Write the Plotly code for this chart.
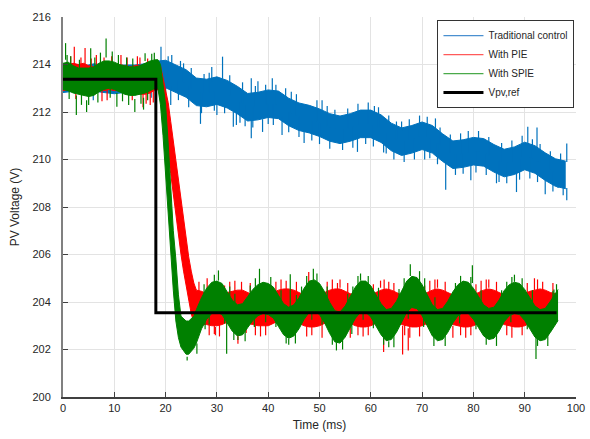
import plotly.graph_objects as go

# ---------------- data ----------------
# Reference voltage
ref_t = [0, 18.1, 18.1, 96.2]
ref_v = [213.38, 213.38, 203.55, 203.55]

# Traditional control (blue): solid core of the noise band, every 2 ms
blue_t = [0, 2, 4, 6, 8, 10, 12, 14, 16, 18, 20, 22, 24, 26, 28, 30, 32, 34, 36, 38,
          40, 42, 44, 46, 48, 50, 52, 54, 56, 58, 60, 62, 64, 66, 68, 70, 72, 74, 76, 78,
          80, 82, 84, 86, 88, 90, 92, 94, 96, 98]
blue_hi = [213.98, 214.03, 213.93, 214.03, 213.98, 213.93, 213.98, 213.98, 214.03, 214.13,
           214.18, 213.98, 213.78, 213.43, 213.38, 213.48, 213.33, 213.08, 212.78, 212.83,
           212.93, 212.88, 212.58, 212.38, 212.28, 212.13, 211.93, 211.83, 211.93, 212.08,
           212.08, 211.88, 211.53, 211.33, 211.43, 211.58, 211.43, 211.08, 210.78, 210.83,
           210.93, 210.88, 210.63, 210.43, 210.53, 210.73, 210.58, 210.28, 210.03, 209.93]
blue_lo = [212.82, 212.87, 212.77, 212.87, 212.82, 212.77, 212.82, 212.82, 212.87, 212.97,
           213.02, 212.82, 212.62, 212.27, 212.22, 212.32, 212.17, 211.92, 211.62, 211.67,
           211.77, 211.72, 211.42, 211.22, 211.12, 210.97, 210.77, 210.67, 210.77, 210.92,
           210.92, 210.72, 210.37, 210.17, 210.27, 210.42, 210.27, 209.92, 209.62, 209.67,
           209.77, 209.72, 209.47, 209.27, 209.37, 209.57, 209.42, 209.12, 208.87, 208.77]
# spikes sticking out of the blue band: time, start (inside band), tip
blue_spk_t = [19.1, 21.2, 22.9, 31.1, 36.7, 38.0, 40.8, 43.4, 60.7, 72.6, 90.6, 92.4, 98.2,
              29.0, 50.5, 66.0,
              21.0, 26.8, 30.0, 33.2, 33.8, 36.7, 38.9, 42.7, 57.4, 74.6, 79.5, 88.4, 94.0,
              98.2, 96.5, 47.0, 62.5, 70.5, 84.5, 5.9, 17.2,
              20.5, 23.5, 25, 27.5, 28.5, 32.5, 35, 37.5, 39.5, 41.5, 44.5, 45.5, 49.5, 51.5,
              53, 55.5, 57.5, 59.5, 61.5, 63.5, 65, 67.5, 69.5, 71, 73.5, 75.5, 77.5, 79, 81,
              83, 85.5, 87.5, 89.5, 91.5, 93, 95, 97,
              20, 22.5, 24.5, 27, 29.5, 31.5, 34.5, 35.5, 37, 40, 41, 44, 46, 48.5, 50, 52,
              54.5, 56.5, 59, 60.5, 63, 64.5, 66.5, 68.5, 71.5, 73, 76.5, 78, 80.5, 82.5, 85,
              86.5, 89, 91, 92.5, 95.5, 97.5]
blue_spk_a = [214.0, 213.9, 213.8, 213.4, 212.7, 212.7, 212.8, 212.6, 211.9, 211.3, 210.6,
              210.5, 209.9, 213.3, 212.0, 211.2,
              213.1, 212.35, 212.4, 212.0, 212.0, 211.7, 211.7, 211.8, 210.9, 209.95, 209.8,
              209.4, 209.2, 208.8, 209.0, 211.2, 210.8, 210.5, 209.5, 212.85, 212.9,
              213.55, 213.25, 213.0, 212.8, 212.82, 212.7, 212.35, 212.23, 212.32, 212.32,
              211.95, 211.85, 211.6, 211.4, 211.3, 211.3, 211.45, 211.5, 211.35, 211.0, 210.85,
              210.82, 210.95, 210.95, 210.6, 210.27, 210.23, 210.3, 210.33, 210.17, 209.9,
              209.92, 210.1, 210.05, 209.85, 209.57, 209.4,
              213.6, 213.35, 213.1, 212.82, 212.87, 212.8, 212.42, 212.28, 212.22, 212.35,
              212.33, 212.0, 211.8, 211.65, 211.55, 211.35, 211.27, 211.38, 211.5, 211.45,
              211.12, 210.9, 210.78, 210.9, 210.9, 210.68, 210.22, 210.25, 210.34, 210.25,
              209.95, 209.88, 210.05, 210.08, 209.92, 209.5, 209.37]
blue_spk_b = [214.75, 214.4, 214.15, 214.33, 213.42, 213.3, 213.42, 213.0, 212.25, 211.73,
              211.38, 211.35, 210.67, 213.9, 212.5, 211.6,
              212.3, 211.5, 211.87, 211.38, 211.45, 210.89, 211.16, 211.03, 210.32, 208.73,
              209.13, 208.63, 208.54, 208.28, 208.8, 210.7, 210.3, 210.0, 209.0, 212.5, 212.6,
              214.35, 214.05, 213.85, 213.6, 213.65, 213.55, 213.25, 213.1, 213.15, 213.15,
              212.85, 212.75, 212.5, 212.25, 212.1, 212.15, 212.35, 212.4, 212.2, 211.85,
              211.6, 211.7, 211.85, 211.8, 211.35, 211.05, 211.1, 211.2, 211.2, 210.95,
              210.7, 210.8, 211.0, 210.85, 210.65, 210.35, 210.25,
              212.8, 212.5, 212.2, 211.95, 212.05, 211.95, 211.55, 211.4, 211.35, 211.5,
              211.45, 211.15, 210.95, 210.8, 210.65, 210.45, 210.4, 210.5, 210.65, 210.55,
              210.25, 210.0, 209.9, 210.0, 210.05, 209.8, 209.35, 209.4, 209.45, 209.35,
              209.05, 209.0, 209.15, 209.2, 209.05, 208.65, 208.5]

# With PIE (red)
red_t = [0, 1, 2, 3, 4, 5, 6, 7, 8, 9, 10, 11, 12, 13, 14, 15, 16, 17, 18,
         18.5, 19, 19.5, 20, 20.5, 21, 21.5, 22, 22.5, 23, 23.5, 24, 24.5, 25, 25.5,
         26, 27, 28, 29, 30, 31, 32, 33, 34, 35, 36, 37, 38, 39, 40, 41, 42, 43, 44, 45,
         46, 47, 48, 49, 50, 51, 52, 53, 54, 55, 56, 57, 58, 59, 60, 61, 62, 63, 64, 65,
         66, 67, 68, 69, 70, 71, 72, 73, 74, 75, 76, 77, 78, 79, 80, 81, 82, 83, 84, 85,
         86, 87, 88, 89, 90, 91, 92, 93, 94, 95, 96]
red_hi = [213.95, 214.0, 214.05, 214.0, 214.05, 213.95, 213.9, 213.95, 213.95, 213.9,
          213.95, 214.0, 213.95, 213.9, 213.95, 213.95, 213.95, 214.0, 214.05,
          214.05, 213.95, 213.4, 213.0, 212.4, 211.6, 210.8, 209.97, 209.2, 208.3, 207.4,
          206.6, 205.9, 205.3, 204.8,
          204.5, 204.45, 204.35, 204.3, 204.25, 204.3, 204.4, 204.45, 204.5, 204.5, 204.4,
          204.3, 204.25, 204.25, 204.3, 204.4, 204.5, 204.55, 204.55, 204.5, 204.4, 204.3,
          204.25, 204.25, 204.3, 204.4, 204.5, 204.55, 204.55, 204.45, 204.35, 204.3,
          204.25, 204.25, 204.3, 204.4, 204.5, 204.55, 204.5, 204.4, 204.3, 204.25, 204.2,
          204.25, 204.3, 204.4, 204.5, 204.55, 204.5, 204.4, 204.3, 204.25, 204.2, 204.25,
          204.3, 204.4, 204.5, 204.55, 204.5, 204.4, 204.3, 204.25, 204.2, 204.25, 204.35,
          204.45, 204.5, 204.55, 204.5, 204.4, 204.35]
red_lo = [212.9, 212.95, 212.9, 212.85, 212.9, 212.9, 212.95, 212.95, 212.9, 212.95,
          212.9, 212.9, 212.85, 212.85, 212.8, 212.75, 212.75, 212.8, 212.95,
          212.95, 212.6, 211.9, 211.2, 210.3, 209.4, 208.5, 207.6, 206.8, 206.0, 205.3,
          204.65, 204.0, 203.5, 203.15,
          203.05, 203.05, 203.05, 203.0, 203.0, 203.05, 203.15, 203.2, 203.25, 203.2, 203.1,
          203.05, 203.0, 203.0, 203.0, 203.1, 203.2, 203.25, 203.25, 203.2, 203.1, 203.0,
          202.95, 202.95, 203.0, 203.1, 203.2, 203.25, 203.25, 203.2, 203.1, 203.0, 202.95,
          202.95, 203.0, 203.1, 203.2, 203.25, 203.25, 203.15, 203.05, 203.0, 202.95,
          202.95, 203.0, 203.1, 203.2, 203.25, 203.25, 203.15, 203.05, 203.0, 202.95,
          202.95, 203.0, 203.1, 203.2, 203.25, 203.25, 203.15, 203.05, 203.0, 202.95,
          202.95, 203.0, 203.1, 203.2, 203.25, 203.2, 203.1, 203.05]
red_spk_t = [2.2, 4.3, 11.3, 8.0, 15.0, 28.1, 47.9, 61.9, 91.9, 54.0, 36.5, 73.0, 83.0,
             15.6, 17.0, 29.7, 34.1, 35.7, 62.5, 66.2, 67.3, 76.0, 94.5, 44.5, 56.0,
             1.5, 3.5, 5.5, 6.5, 9.5, 12.5, 14.5, 16.5, 2.5, 7.6, 8.6, 13.5, 16.2, 17.6,
             26.5, 31.5, 32.5, 33.5, 34.8, 40.5, 41.5, 42.5, 43.5, 45.5, 51.5, 52.5, 53.5,
             55.5, 60.5, 62.6, 63.5, 64.5, 70.5, 71.5, 72.5, 74.5, 80.5, 81.5, 82.5, 84.5,
             90.5, 92.5, 93.5, 95.5,
             28.5, 29.5, 30.5, 37.5, 38.5, 39.5, 47.5, 48.5, 50.5, 57.5, 58.5, 59.5, 66.6,
             67.6, 69.5, 77.5, 78.5, 79.5, 86.5, 87.5, 89.5]
red_spk_a = [214.0, 214.0, 214.0, 214.0, 214.0, 204.5, 204.4, 204.6, 204.5, 204.6, 204.4,
             204.6, 204.6,
             212.9, 212.9, 202.95, 203.1, 203.0, 203.1, 203.0, 202.9, 203.0, 203.1, 203.1,
             203.0,
             213.5, 213.5, 213.5, 213.5, 213.5, 213.5, 213.5, 213.5, 213.4, 213.4, 213.4,
             213.4, 213.4, 213.4,
             203.8, 203.7, 203.8, 203.8, 203.8, 203.7, 203.8, 203.8, 203.9, 203.8, 203.8,
             203.8, 203.9, 203.8, 203.7, 203.8, 203.9, 203.8, 203.7, 203.8, 203.9, 203.8,
             203.7, 203.8, 203.9, 203.8, 203.7, 203.9, 203.9, 203.8,
             203.6, 203.6, 203.6, 203.6, 203.6, 203.6, 203.6, 203.6, 203.6, 203.6, 203.6,
             203.6, 203.6, 203.6, 203.6, 203.6, 203.6, 203.6, 203.6, 203.6, 203.6]
red_spk_b = [214.75, 214.7, 214.4, 214.3, 214.3, 205.0, 205.26, 204.9, 205.0, 204.95, 204.8,
             204.95, 204.95,
             212.2, 212.3, 202.6, 202.24, 202.7, 201.89, 201.79, 201.96, 202.5, 202.6, 202.6,
             202.5,
             214.35, 214.3, 214.25, 214.4, 214.35, 214.3, 214.35, 214.25, 212.55, 212.45,
             212.5, 212.5, 212.35, 212.4,
             204.85, 204.7, 204.85, 204.9, 204.85, 204.7, 204.85, 204.95, 204.9, 204.85,
             204.85, 204.95, 204.8, 204.8, 204.75, 204.95, 204.85, 204.8, 204.7, 204.9,
             204.95, 204.85, 204.75, 204.9, 204.95, 204.85, 204.8, 204.95, 204.85, 204.8,
             202.6, 202.65, 202.55, 202.6, 202.55, 202.6, 202.55, 202.6, 202.5, 202.6,
             202.55, 202.6, 202.6, 202.5, 202.55, 202.6, 202.5, 202.6, 202.6, 202.5, 202.6]

# With SPIE (green)
green_t = [0, 1, 2, 3, 4, 5, 6, 7, 8, 9, 10, 11, 12, 13, 14, 15, 16, 17, 18,
           18.5, 19, 19.5, 20, 20.5, 21, 21.5, 22, 22.5, 23, 23.5, 24, 24.5, 25, 25.5,
           26, 27, 28, 29, 30, 31, 32, 33, 34, 35, 36, 37, 38, 39, 40, 41, 42, 43, 44, 45,
           46, 47, 48, 49, 50, 51, 52, 53, 54, 55, 56, 57, 58, 59, 60, 61, 62, 63, 64, 65,
           66, 67, 68, 69, 70, 71, 72, 73, 74, 75, 76, 77, 78, 79, 80, 81, 82, 83, 84, 85,
           86, 87, 88, 89, 90, 91, 92, 93, 94, 95, 96, 96.5]
green_hi = [214.05, 214.1, 213.95, 213.85, 213.85, 213.85, 213.9, 214.05, 214.15, 214.15,
            214.1, 214.0, 213.95, 213.9, 213.9, 213.95, 214.05, 214.15, 214.2,
            214.2, 214.0, 213.1, 212.3, 210.7, 208.8, 207.0, 205.8, 204.3, 203.4, 203.3,
            203.2, 203.2, 203.3, 203.4,
            203.68, 204.18, 204.58, 204.83, 204.88, 204.78, 204.43, 204.08, 203.88, 203.93,
            204.23, 204.53, 204.73, 204.83, 204.78, 204.63, 204.28, 203.93, 203.78, 203.88,
            204.18, 204.58, 204.88, 204.93, 204.78, 204.43, 203.98, 203.63, 203.58, 203.83,
            204.23, 204.63, 204.88, 204.88, 204.68, 204.33, 203.93, 203.68, 203.73, 204.03,
            204.48, 204.88, 205.08, 205.03, 204.73, 204.28, 203.88, 203.68, 203.73, 204.03,
            204.43, 204.73, 204.88, 204.83, 204.58, 204.23, 203.88, 203.73, 203.78, 204.08,
            204.48, 204.73, 204.83, 204.78, 204.53, 204.18, 203.83, 203.68, 203.73, 204.03,
            204.38, 204.53]
green_lo = [212.95, 212.9, 212.8, 212.75, 212.7, 212.65, 212.7, 212.85, 212.95, 213.0,
            212.95, 212.85, 212.75, 212.7, 212.7, 212.75, 212.8, 212.9, 213.0,
            213.0, 212.3, 211.0, 209.4, 207.8, 205.8, 204.5, 203.2, 202.5, 202.1, 201.95,
            201.8, 201.8, 201.95, 202.05,
            202.27, 202.87, 203.27, 203.52, 203.57, 203.47, 203.12, 202.77, 202.57, 202.62,
            202.92, 203.22, 203.42, 203.52, 203.47, 203.32, 202.97, 202.62, 202.47, 202.57,
            202.87, 203.27, 203.57, 203.62, 203.47, 203.12, 202.67, 202.32, 202.27, 202.52,
            202.92, 203.32, 203.57, 203.57, 203.37, 203.02, 202.62, 202.37, 202.42, 202.72,
            203.17, 203.57, 203.77, 203.72, 203.42, 202.97, 202.57, 202.37, 202.42, 202.72,
            203.12, 203.42, 203.57, 203.52, 203.27, 202.92, 202.57, 202.42, 202.47, 202.77,
            203.17, 203.42, 203.52, 203.47, 203.22, 202.87, 202.52, 202.37, 202.42, 202.72,
            203.07, 203.22]
green_spk_t = [0.5, 5.4, 8.4, 16.0, 30.3, 38.3, 44.3, 48.8, 67.7, 79.8, 95.7, 58.0, 88.0,
               2.6, 4.6, 10.5, 14.0, 15.7, 24.2, 26.1, 31.9, 34.1, 53.3, 92.2, 44.0, 63.5,
               0.8, 1.5, 3.2, 6.2, 7.3, 9.6, 10.8, 12.4, 13.6, 17.3, 17.8,
               1.2, 3.6, 5.0, 6.8, 9.2, 11.6, 12.8, 15.2, 16.5,
               27.5, 29.5, 32.5, 33.5, 36.5, 37.5, 40.5, 42.5, 45.5, 46.5, 47.5, 49.5, 51.5,
               55.5, 56.5, 57.5, 59.5, 61.5, 65.5, 66.5, 69.5, 70.5, 72.5, 76.5, 77.5, 79.5,
               81.5, 85.5, 86.5, 87.5, 89.5, 91.5, 95.5, 96.2,
               27.7, 28.5, 31.5, 33.3, 35.5, 37.3, 39.5, 41.5, 43.5, 45.3, 48.5, 50.5, 52.5,
               54.5, 56.3, 58.5, 60.5, 62.5, 64.5, 67.3, 70.3, 72.3, 74.5, 77.3, 80.5, 82.5,
               84.5, 87.3, 90.5, 92.5, 94.5]
green_spk_a = [214.2, 213.9, 214.3, 214.15, 204.9, 204.75, 203.8, 204.9, 205.1, 204.8,
               204.1, 204.9, 204.85,
               212.7, 212.5, 212.8, 212.55, 212.6, 201.7, 202.25, 203.2, 202.55, 202.3,
               202.5, 202.45, 202.35,
               213.5, 213.5, 213.5, 213.5, 213.5, 213.5, 213.5, 213.5, 213.5, 213.5, 213.5,
               213.4, 213.4, 213.4, 213.4, 213.4, 213.4, 213.4, 213.4, 213.4,
               203.7, 204.2, 203.9, 203.3, 203.7, 203.9, 204.0, 203.4, 203.3, 203.7, 204.0,
               204.2, 203.5, 203.3, 203.7, 204.1, 204.1, 203.4, 203.5, 203.9, 204.2, 203.8,
               203.1, 203.9, 204.1, 204.0, 203.4, 203.6, 203.9, 204.1, 204.0, 203.3, 203.5,
               203.8,
               203.7, 204.0, 204.0, 203.3, 203.4, 203.9, 204.1, 203.8, 203.2, 203.3, 204.2,
               203.9, 203.1, 203.0, 203.7, 204.2, 203.8, 203.1, 203.2, 204.3, 203.8, 203.1,
               203.2, 204.1, 203.7, 203.1, 203.2, 204.1, 203.7, 203.1, 203.2]
green_spk_b = [214.9, 214.68, 215.1, 214.47, 205.33, 205.4, 205.17, 205.4, 205.59, 205.55,
               204.53, 205.2, 205.15,
               211.87, 212.0, 212.22, 212.0, 212.1, 201.54, 201.82, 201.82, 202.4, 201.96,
               201.6, 202.2, 202.1,
               214.4, 214.35, 214.2, 214.3, 214.5, 214.55, 214.4, 214.3, 214.25, 214.45, 214.5,
               212.55, 212.3, 212.3, 212.4, 212.6, 212.45, 212.3, 212.35, 212.5,
               204.75, 205.15, 204.65, 204.35, 204.7, 205.0, 205.05, 204.5, 204.3, 204.65,
               205.1, 205.2, 204.65, 204.35, 204.65, 205.1, 205.1, 204.6, 204.55, 205.0,
               205.3, 205.0, 204.2, 204.8, 205.1, 205.05, 204.5, 204.5, 204.85, 205.05,
               205.0, 204.5, 204.45, 204.75,
               202.85, 203.05, 203.1, 202.4, 202.35, 202.95, 203.15, 202.95, 202.25, 202.25,
               203.25, 203.05, 202.2, 202.0, 202.65, 203.25, 202.9, 202.2, 202.1, 203.3,
               202.95, 202.15, 202.15, 203.1, 202.85, 202.2, 202.15, 203.15, 202.85, 202.15,
               202.15]

series = [
    ("#0072BD", blue_t, blue_hi, blue_lo, blue_spk_t, blue_spk_a, blue_spk_b),
    ("#FF0000", red_t, red_hi, red_lo, red_spk_t, red_spk_a, red_spk_b),
    ("#008000", green_t, green_hi, green_lo, green_spk_t, green_spk_a, green_spk_b),
]

fig = go.Figure()
for col, t, hi, lo, st, sa, sb in series:
    fig.add_trace(go.Scatter(x=t, y=lo, mode="lines", line=dict(color=col, width=1),
                             showlegend=False, hoverinfo="skip"))
    fig.add_trace(go.Scatter(x=t, y=hi, mode="lines", line=dict(color=col, width=1),
                             fill="tonexty", fillcolor=col, showlegend=False, hoverinfo="skip"))
    sx, sy = [], []
    for ti, a, b in zip(st, sa, sb):
        sx += [ti, ti, None]
        sy += [a, b, None]
    fig.add_trace(go.Scatter(x=sx, y=sy, mode="lines", line=dict(color=col, width=1.2),
                             showlegend=False, hoverinfo="skip", connectgaps=False))

fig.add_trace(go.Scatter(x=ref_t, y=ref_v, mode="lines", line=dict(color="black", width=3),
                         showlegend=False, hoverinfo="skip"))

# legend entries
legend_names = ["Traditional control", "With PIE", "With SPIE", "Vpv,ref"]
legend_colors = ["#4a90d0", "#ff5a5a", "#4aaa4a", "black"]
legend_widths = [1.2, 1.2, 1.2, 3]
for nm, col, w in zip(legend_names, legend_colors, legend_widths):
    fig.add_trace(go.Scatter(x=[None], y=[None], mode="lines", name=nm,
                             line=dict(color=col, width=w)))

font_fam = "Arial, Liberation Sans, sans-serif"
fig.update_layout(
    width=590, height=439,
    margin=dict(l=63, r=5, t=17, b=42),
    paper_bgcolor="white", plot_bgcolor="white",
    font=dict(family=font_fam, size=11, color="#262626"),
    showlegend=True,
    legend=dict(x=0.997, xanchor="right", y=0.992, yanchor="top",
                bgcolor="white", bordercolor="#333333", borderwidth=1,
                font=dict(size=10, color="#262626"), tracegroupgap=0,
                itemwidth=40, traceorder="normal"),
)
fig.update_xaxes(range=[0, 100], dtick=10, tick0=0, showgrid=True, gridcolor="#e3e3e3",
                 gridwidth=1, showline=True, linecolor="#404040", linewidth=1.5,
                 ticks="inside", ticklen=5, tickcolor="#404040", zeroline=False,
                 ticklabeloverflow="allow",
                 title=dict(text="Time (ms)", font=dict(size=12), standoff=8))
fig.update_yaxes(range=[200, 216], dtick=2, tick0=200, showgrid=True, gridcolor="#e3e3e3",
                 gridwidth=1, showline=True, linecolor="#808080", linewidth=2,
                 ticks="inside", ticklen=5, tickcolor="#404040", zeroline=False,
                 ticklabelstandoff=8,
                 title=dict(text="PV Voltage (V)", font=dict(size=12), standoff=10))

fig.write_html("out.html")
